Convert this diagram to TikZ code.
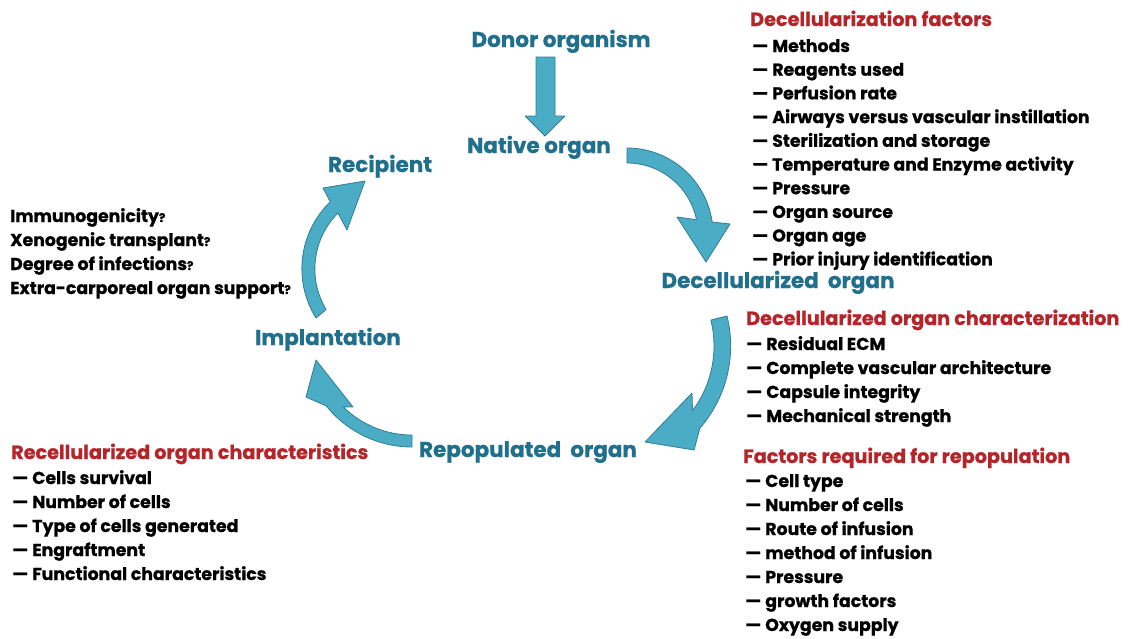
\documentclass[tikz,border=0pt]{standalone}
\usepackage{fontspec}
\setmainfont{Poppins}[BoldFeatures={FakeBold=0.8}]
\definecolor{arrowfill}{RGB}{75,172,198}
\definecolor{arrowline}{RGB}{49,125,148}
\definecolor{labelblue}{RGB}{31,111,141}
\definecolor{headred}{RGB}{180,36,40}
\tikzset{
  flow/.style={fill=arrowfill, draw=arrowline, line width=0.8pt, line join=round},
  stage/.style={font=\fontsize{21.5}{24}\selectfont\bfseries, text=labelblue, inner sep=0pt, anchor=base},
  headline/.style={font=\fontsize{19.2}{22}\selectfont\bfseries, text=headred, inner sep=0pt, anchor=base west},
  item/.style={font=\fontsize{17.3}{20}\selectfont\bfseries, text=black, inner sep=0pt, anchor=base west},
}
\newcommand{\qm}{{\fontsize{12}{14}\selectfont ?}}
\begin{document}
\begin{tikzpicture}[x=1pt,y=1pt]
\useasboundingbox (0,0) rectangle (1137,-638);
\fill[white] (0,0) rectangle (1137,-638);

% stage labels
\node[stage] (donor) at (561,-47) {Donor organism};
\node[stage] (native) at (539,-153) {Native organ};
\node[stage] (recip) at (380,-172) {Recipient};
\node[stage] (decell) at (778,-288) {Decellularized\ \ organ};
\node[stage] (implant) at (328,-345) {Implantation};
\node[stage] (repop) at (528,-457) {Repopulated\ \ organ};

% block arrows
\draw[flow] (536,-57) -- (555,-57) -- (555,-116) -- (565,-116) -- (545,-136)
  -- (525,-116) -- (536,-116) -- cycle;
\draw[flow] (627,-148) arc[start angle=90, end angle=8, radius=86]
  -- (730,-224) -- (706,-262) -- (677,-217) -- (696.5,-219.7)
  arc[start angle=11.6, end angle=90, radius=71] -- cycle;
\draw[flow] (727,-316) arc[start angle=13.9, end angle=-41.1, radius=125]
  -- (694,-450) -- (645,-442) -- (692,-393) -- (692.5,-410.7)
  arc[start angle=-36.8, end angle=13.9, radius=108] -- cycle;
\draw[flow] (412,-447) arc[start angle=270, end angle=218.8, radius=110]
  -- (306,-397) -- (316,-360) -- (353,-407) -- (343.2,-406.8)
  arc[start angle=225.4, end angle=270, radius=98] -- cycle;
\draw[flow] (316,-318) arc[start angle=212, end angle=134, radius=93]
  -- (323,-188) -- (365,-181) -- (347,-230) -- (338,-213)
  arc[start angle=135, end angle=211, radius=79] -- cycle;

% Decellularization factors
\node[headline] (dfh) at (750,-26) {Decellularization factors};
\foreach \t [count=\i] in {Methods, Reagents used, Perfusion rate,
  Airways versus vascular instillation, Sterilization and storage,
  Temperature and Enzyme activity, Pressure, Organ source, Organ age,
  Prior injury identification}
  \node[item] (df\i) at (752,{-52-23.7*(\i-1)}) {—\hspace{4pt}\t};

% Decellularized organ characterization
\node[headline] (dch) at (746,-325) {Decellularized organ characterization};
\foreach \t [count=\i] in {Residual ECM, Complete vascular architecture,
  Capsule integrity, Mechanical strength}
  \node[item] (dc\i) at (746,{-350-24*(\i-1)}) {—\hspace{4pt}\t};

% Factors required for repopulation
\node[headline] (frh) at (743,-463) {Factors required for repopulation};
\foreach \t [count=\i] in {Cell type, Number of cells, Route of infusion,
  method of infusion, Pressure, growth factors, Oxygen supply}
  \node[item] (fr\i) at (745,{-487-24*(\i-1)}) {—\hspace{4pt}\t};

% Recellularized organ characteristics
\node[headline] (rch) at (11,-459) {Recellularized organ characteristics};
\foreach \t [count=\i] in {Cells survival, Number of cells,
  Type of cells generated, Engraftment, Functional characteristics}
  \node[item] (rc\i) at (12,{-484-24*(\i-1)}) {—\hspace{4pt}\t};

% questions
\node[item] (q1) at (10,-222) {Immunogenicity\qm};
\node[item] (q2) at (10,-246) {Xenogenic transplant\qm};
\node[item] (q3) at (10,-270) {Degree of infections\qm};
\node[item] (q4) at (10,-294) {Extra-carporeal organ support\qm};
\end{tikzpicture}
\end{document}
